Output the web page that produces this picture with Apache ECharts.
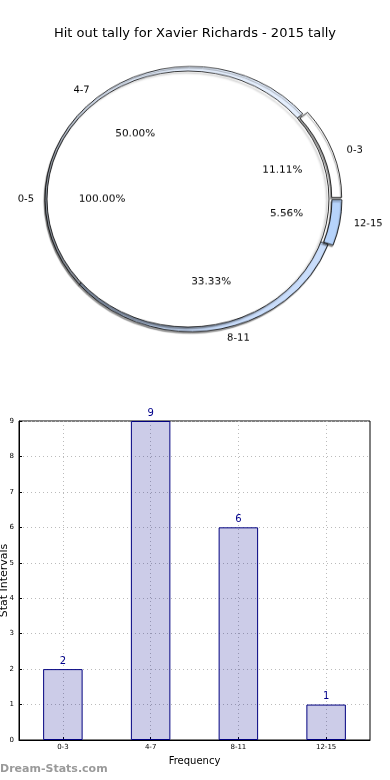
<!DOCTYPE html>
<html>
<head>
<meta charset="utf-8">
<script src="https://cdn.jsdelivr.net/npm/echarts@6/dist/echarts.min.js"></script>
<style>
html,body{margin:0;padding:0;background:#fff}
#wrap{position:relative;width:390px;height:780px;overflow:hidden}
#bar{position:absolute;left:0;top:0;width:390px;height:780px}
#pie{position:absolute;left:0;top:0;width:390px;height:400px;transform:scaleY(0.908);transform-origin:0 199px}
</style>
</head>
<body>
<div id="wrap"><div id="bar"></div><div id="pie"></div></div>
<script>
const titleText = 'Hit out tally for Xavier Richards - 2015 tally';
const categories = ['0-3', '4-7', '8-11', '12-15'];
const counts = [2, 9, 6, 1];
const innerName = '0-5';
const innerValue = [18];
const ringColors = ['#ffffff', '#e4eefd', '#c9ddfb', '#b6d3fb'];
const yTicks = [0, 9, 1];

const FONT = 'DejaVu Sans';
const C_INNER = [188, 199];
const C_RING = [191, 199];
const C_LABEL = [195, 199];

const ringData = categories.map((n, i) => ({
  name: n, value: counts[i],
  selected: i === 0 || i === 3,
  itemStyle: { color: ringColors[i] }
}));
const plainRing = categories.map((n, i) => ({ name: n, value: counts[i] }));
const innerData = [{ name: innerName, value: innerValue[0] }];

const pie = echarts.init(document.getElementById('pie'), null, { renderer: 'canvas' });
const pctFmt = p => p.percent.toFixed(2) + '%';
const nameLabel = { show: true, position: 'outside', formatter: '{b}', fontFamily: FONT, fontSize: 10, color: '#000' };
pie.setOption({
  animation: false,
  series: [
    {
      type: 'pie', center: C_RING, radius: [136, 146], startAngle: 0, clockwise: false,
      data: ringData, selectedMode: 'multiple', selectedOffset: 5, silent: true,
      itemStyle: { borderColor: '#000', borderWidth: 0.8,
        shadowColor: 'rgba(0,0,0,0.4)', shadowBlur: 1, shadowOffsetX: -1, shadowOffsetY: 2 },
      label: { show: false }, labelLine: { show: false }
    },
    {
      type: 'pie', center: C_INNER, radius: [0, 141], startAngle: 0, clockwise: false,
      data: innerData, silent: true,
      itemStyle: { color: '#fff', borderColor: '#000', borderWidth: 0.8,
        shadowColor: 'rgba(0,0,0,0.42)', shadowBlur: 2, shadowOffsetX: -2, shadowOffsetY: 2 },
      label: { show: false }, labelLine: { show: false }
    },
    {
      type: 'pie', center: C_LABEL, radius: [0, 152], startAngle: 0, clockwise: false,
      data: plainRing, silent: true, avoidLabelOverlap: false,
      itemStyle: { color: 'transparent', borderWidth: 0 },
      label: nameLabel, labelLine: { show: false, length: 4, length2: 0 }
    },
    {
      type: 'pie', center: C_LABEL, radius: [0, 152], startAngle: 0, clockwise: false,
      data: innerData, silent: true, avoidLabelOverlap: false,
      itemStyle: { color: 'transparent', borderWidth: 0 },
      label: nameLabel, labelLine: { show: false, length: 4, length2: 0 }
    },
    {
      type: 'pie', center: C_LABEL, radius: [0, 180], startAngle: 0, clockwise: false,
      data: plainRing, silent: true, avoidLabelOverlap: false,
      itemStyle: { color: 'transparent', borderWidth: 0 },
      label: { show: true, position: 'inside', formatter: pctFmt, fontFamily: FONT, fontSize: 10.5, color: '#000' },
      labelLine: { show: false }
    },
    {
      type: 'pie', center: C_LABEL, radius: [0, 180], startAngle: 0, clockwise: false,
      data: innerData, silent: true, avoidLabelOverlap: false,
      itemStyle: { color: 'transparent', borderWidth: 0 },
      label: { show: true, position: 'inside', formatter: pctFmt, fontFamily: FONT, fontSize: 10.5, color: '#000' },
      labelLine: { show: false }
    }
  ]
});

const bar = echarts.init(document.getElementById('bar'), null, { renderer: 'canvas' });
bar.setOption({
  animation: false,
  textStyle: { fontFamily: FONT },
  title: {
    text: titleText, left: 'center', top: 22,
    textStyle: { fontFamily: FONT, fontSize: 13, fontWeight: 'normal', color: '#000' }
  },
  graphic: [{
    type: 'text', left: 0, top: 764,
    style: { text: 'Dream-Stats.com', fill: '#9a9a9a', font: 'bold 11px "DejaVu Sans"' }
  }],
  grid: { left: 19, right: 20, top: 421, bottom: 40, containLabel: false, outerBoundsMode: 'none',
    show: true, borderColor: '#000', borderWidth: 1, backgroundColor: 'transparent' },
  xAxis: {
    type: 'category', data: categories,
    name: 'Frequency', nameLocation: 'middle', nameGap: 16, nameMoveOverlap: false,
    nameTextStyle: { fontFamily: FONT, fontSize: 10, color: '#000' },
    axisLine: { lineStyle: { color: '#000' } },
    axisTick: { show: true, alignWithLabel: true, inside: true, length: 3, lineStyle: { color: '#000' } },
    axisLabel: { fontFamily: FONT, fontSize: 7, color: '#000', margin: 4 },
    splitLine: { show: true, alignWithLabel: true, lineStyle: { color: '#bbb', type: [1, 3] } }
  },
  yAxis: {
    type: 'value', min: yTicks[0], max: yTicks[1], interval: yTicks[2],
    name: 'Stat Intervals', nameLocation: 'middle', nameGap: 9, nameRotate: 90, nameMoveOverlap: false,
    nameTextStyle: { fontFamily: FONT, fontSize: 11, color: '#000' },
    axisLine: { show: true, lineStyle: { color: '#000' } },
    axisTick: { show: true, inside: true, length: 3, lineStyle: { color: '#000' } },
    axisLabel: { fontFamily: FONT, fontSize: 7, color: '#000', margin: 5 },
    splitLine: { show: true, lineStyle: { color: '#bbb', type: [1, 3] } }
  },
  series: [
    {
      type: 'bar', data: counts, barWidth: '45%',
      itemStyle: { color: 'rgba(0,0,140,0.2)', borderColor: '#000080', borderWidth: 1 },
      label: { show: true, position: 'top', distance: 3, fontFamily: FONT, fontSize: 10, color: '#00008b' }
    }
  ]
});
</script>
</body>
</html>
